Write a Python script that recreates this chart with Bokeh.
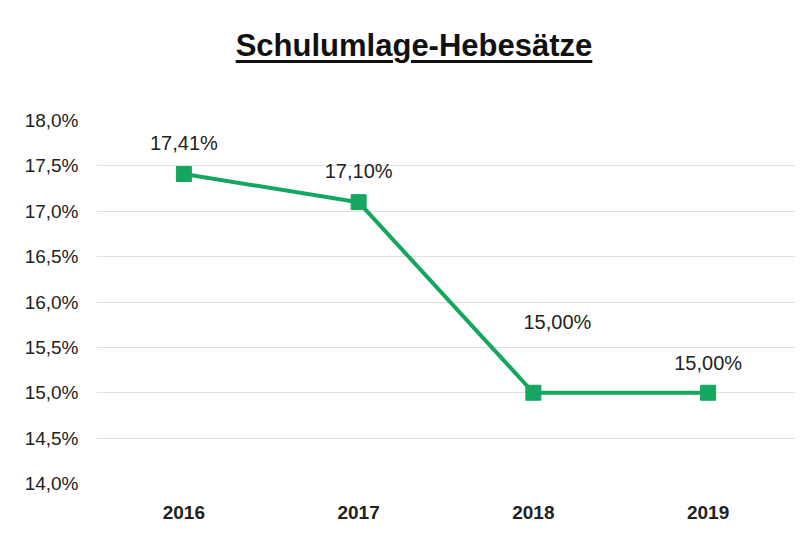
from bokeh.plotting import figure
from bokeh.models import ColumnDataSource, FixedTicker, LabelSet, Div
from bokeh.layouts import column
from bokeh.core.properties import value
from bokeh.embed import file_html
from bokeh.resources import INLINE

years = ["2016", "2017", "2018", "2019"]
rates = [17.41, 17.10, 15.00, 15.00]
rate_labels = ["17,41%", "17,10%", "15,00%", "15,00%"]
y_ticks = [14.0, 14.5, 15.0, 15.5, 16.0, 16.5, 17.0, 17.5, 18.0]
y_tick_labels = ["14,0%", "14,5%", "15,0%", "15,5%", "16,0%", "16,5%", "17,0%", "17,5%", "18,0%"]
title_text = "Schulumlage-Hebesätze"

# label placement (screen offsets, pixels)
label_dx = [0, 0, 24, 0]
label_dy = [20, 20, 60, 19]

GREEN = "#15a660"
FONT = "Liberation Sans"

src = ColumnDataSource(dict(x=years, y=rates, lab=rate_labels, dx=label_dx, dy=label_dy))

title_div = Div(
    text=(f'<div style="box-sizing:border-box;width:795px;text-align:center;padding-top:30px;'
          f'padding-left:33px;font-family:\'{FONT}\';font-size:31px;font-weight:bold;'
          f'line-height:32px;color:#111111;">'
          f'<span style="text-decoration:underline;text-decoration-thickness:3px;'
          f'text-underline-offset:4px;">{title_text}</span></div>'),
    width=795, height=80, margin=(0, 0, 0, 0))

p = figure(width=795, height=458, x_range=years, y_range=(14.0, 18.0),
           output_backend="svg", toolbar_location=None,
           min_border_left=96, min_border_right=0, min_border_top=40, min_border_bottom=55)
p.outline_line_color = None
p.background_fill_color = "white"
p.border_fill_color = "white"

p.line("x", "y", source=src, line_color=GREEN, line_width=4)
p.scatter("x", "y", source=src, marker="square", size=15, fill_color=GREEN, line_color=GREEN)

labels = LabelSet(x="x", y="y", text="lab", source=src, x_offset="dx", y_offset="dy",
                  text_align="center", text_baseline="bottom",
                  text_font=value(FONT), text_font_size=value("20px"), text_color="#222222")
p.add_layout(labels)

p.yaxis.ticker = FixedTicker(ticks=y_ticks)
p.yaxis.major_label_overrides = {t: l for t, l in zip(y_ticks, y_tick_labels)}
p.yaxis.major_label_text_font = FONT
p.yaxis.major_label_text_font_size = "19px"
p.yaxis.major_label_text_color = "#222222"
p.yaxis.major_label_standoff = 12
p.xaxis.major_label_text_font = FONT
p.xaxis.major_label_text_font_size = "19px"
p.xaxis.major_label_text_font_style = "bold"
p.xaxis.major_label_text_color = "#222222"
p.xaxis.major_label_standoff = 16
for ax in (p.xaxis, p.yaxis):
    ax.axis_line_color = None
    ax.major_tick_line_color = None
    ax.minor_tick_line_color = None

p.xgrid.grid_line_color = None
p.ygrid.grid_line_color = "#e0e0e0"
p.ygrid.grid_line_width = 1

layout = column(title_div, p, spacing=0)

out = file_html(layout, INLINE)
open("out.html", "w").write(out)
